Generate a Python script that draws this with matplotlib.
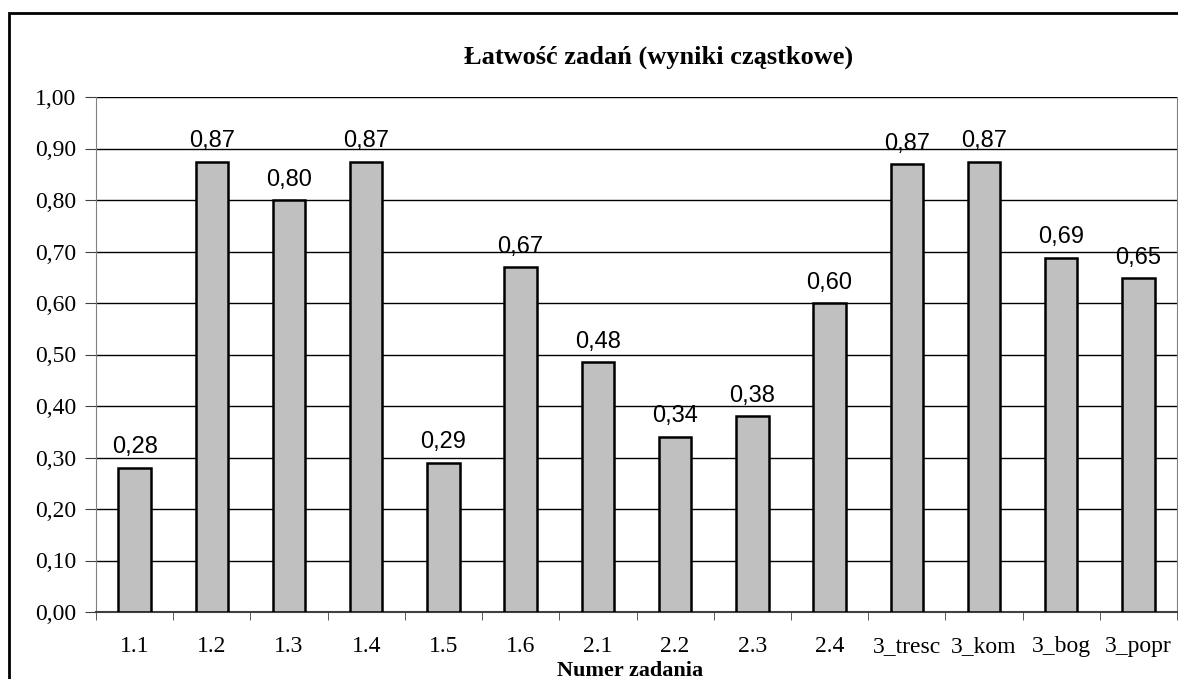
import numpy as np
import matplotlib
matplotlib.use("Agg")
import matplotlib.pyplot as plt
from matplotlib.patches import Rectangle

zadania = ["1.1", "1.2", "1.3", "1.4", "1.5", "1.6", "2.1", "2.2", "2.3", "2.4",
           "3_tresc", "3_kom", "3_bog", "3_popr"]
latwosc = [0.28, 0.874, 0.80, 0.874, 0.29, 0.67, 0.485, 0.34, 0.38, 0.60,
           0.869, 0.874, 0.688, 0.648]
y_ticks = [0.0, 0.1, 0.2, 0.3, 0.4, 0.5, 0.6, 0.7, 0.8, 0.9, 1.0]

W, H = 1178, 679
fig = plt.figure(figsize=(W / 100, H / 100), dpi=100)
ax = fig.add_axes([96 / W, 1 - 612 / H, (1177 - 96) / W, (612 - 97) / H])

serif = "Liberation Serif"
sans = "Liberation Sans"

# outer chart frame (cut off on right and bottom)
fig.patches.append(Rectangle((9 / W, -0.1), 1.2, 1 - 13 / H + 0.1,
                             transform=fig.transFigure, fill=False,
                             edgecolor="black", linewidth=2, clip_on=False))

x = np.arange(len(zadania))
ax.bar(x, latwosc, width=0.42, color="#c0c0c0", edgecolor="black",
       linewidth=1.8, zorder=3)

for xi, v in zip(x, latwosc):
    ax.text(xi, v + 0.028, f"{v:.2f}".replace(".", ","), ha="center",
            va="baseline", fontsize=17, family=sans, zorder=4)

ax.set_xlim(-0.5, len(zadania) - 0.5)
ax.set_ylim(0, 1.0)
ax.set_yticks(y_ticks)
ax.set_yticklabels([f"{t:.2f}".replace(".", ",") for t in y_ticks],
                   family=serif, fontsize=17)
ax.yaxis.grid(True, color="black", linewidth=1, zorder=0)
ax.set_axisbelow(True)

ax.set_xticks(x)
ax.set_xticklabels(zadania, family=serif, fontsize=17)
ax.set_xticks(np.arange(len(zadania) + 1) - 0.5, minor=True)
ax.tick_params(axis="x", which="major", length=0, pad=17)
ax.tick_params(axis="x", which="minor", length=6, color="#404040")
ax.tick_params(axis="y", length=8, color="#404040", pad=6)

ax.spines["top"].set_visible(False)
ax.spines["left"].set_color("#808080")
ax.spines["right"].set_color("#808080")
ax.spines["bottom"].set_color("#404040")
ax.spines["bottom"].set_linewidth(1.5)

fig.text(659 / W, 1 - 57 / H, "Łatwość zadań (wyniki cząstkowe)",
         family=serif, fontweight="bold", fontsize=19, ha="center", va="center")
fig.text(630 / W, 1 - 671 / H, "Numer zadania", family=serif,
         fontweight="bold", fontsize=16, ha="center", va="center")

fig.savefig("out.png", dpi=100)
